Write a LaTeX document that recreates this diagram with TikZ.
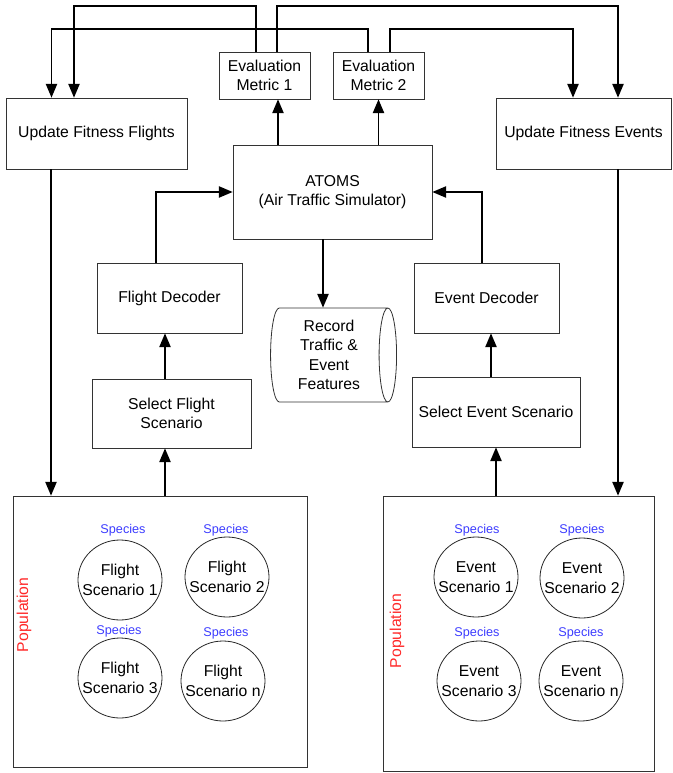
\documentclass[tikz,border=0pt]{standalone}
\usepackage{fontspec}
\setmainfont{Liberation Sans}
\usepackage{tikz}
\usetikzlibrary{shapes}
\usetikzlibrary{arrows}
\usetikzlibrary{calc}
\definecolor{speciesblue}{RGB}{60,60,255}
\definecolor{popred}{RGB}{255,40,40}
\newcommand{\unitpx}{0.75pt}
\newcommand{\boxfont}{\fontsize{11.8}{14.6}\selectfont}
\begin{document}
\begin{tikzpicture}[x=0.75pt,y=-0.75pt]
	\tikzstyle{blk}=[rectangle,draw=black!80,line width=0.6pt,align=center,font=\boxfont,inner sep=0pt]
	\tikzstyle{scen}=[ellipse,draw=black!85,line width=0.6pt,align=center,font=\boxfont,inner xsep=-12pt,inner ysep=0pt,minimum width=84*\unitpx,minimum height=80*\unitpx]
	\tikzstyle{species}=[font=\fontsize{9.5}{11}\selectfont,text=speciesblue,inner sep=0pt]
	\tikzstyle{poplabel}=[font=\boxfont,text=popred,rotate=90,inner sep=0pt]
	\tikzstyle{conn}=[->,>=triangle 45,line width=1.4pt]
	\useasboundingbox (0,0) rectangle (673,773);

	\node[blk,minimum width=181*\unitpx,minimum height=71*\unitpx] (upflights) at (96.5,133.5) {Update Fitness Flights};
	\node[blk,minimum width=175*\unitpx,minimum height=71*\unitpx] (upevents) at (583.5,133.5) {Update Fitness Events};
	\node[blk,minimum width=91*\unitpx,minimum height=47*\unitpx] (metric1) at (264.5,75.5) {Evaluation\\Metric 1};
	\node[blk,minimum width=91*\unitpx,minimum height=47*\unitpx] (metric2) at (378.5,75.5) {Evaluation\\Metric 2};
	\node[blk,minimum width=199*\unitpx,minimum height=94*\unitpx] (atoms) at (332.5,192) {ATOMS\\(Air Traffic Simulator)};
	\node[blk,minimum width=145*\unitpx,minimum height=70*\unitpx] (fdec) at (169.5,298) {Flight Decoder};
	\node[blk,minimum width=145*\unitpx,minimum height=70*\unitpx] (edec) at (486.5,298) {Event Decoder};
	\node[blk,minimum width=159*\unitpx,minimum height=69*\unitpx] (selflight) at (171.5,413.5) {Select Flight\\Scenario};
	\node[blk,minimum width=168*\unitpx,minimum height=70*\unitpx] (selevent) at (496,412) {Select Event Scenario};
	\node[cylinder,draw=black!80,line width=0.6pt,shape aspect=0.25,minimum width=94*\unitpx,minimum height=126*\unitpx,align=center,font=\boxfont,inner sep=0pt] (record) at (329,355) {Record\\Traffic \&\\Event\\Features};

	\node[blk,minimum width=294*\unitpx,minimum height=271*\unitpx] (popflights) at (160,631.5) {};
	\node[blk,minimum width=271*\unitpx,minimum height=275*\unitpx] (popevents) at (518.5,633.5) {};
	\node[poplabel] (popflightslbl) at (24,615) {Population};
	\node[poplabel] (popeventslbl) at (397,631) {Population};

	\node[scen] (fs1) at (120,580) {Flight\\Scenario 1};
	\node[scen] (fs2) at (227,577) {Flight\\Scenario 2};
	\node[scen] (fs3) at (120,678) {Flight\\Scenario 3};
	\node[scen] (fsn) at (223,681) {Flight\\Scenario n};
	\node[species] (fsp1) at (123,530) {Species};
	\node[species] (fsp2) at (226,530) {Species};
	\node[species] (fsp3) at (119,631) {Species};
	\node[species] (fspn) at (226,633) {Species};

	\node[scen] (es1) at (476,577) {Event\\Scenario 1};
	\node[scen] (es2) at (582,578) {Event\\Scenario 2};
	\node[scen] (es3) at (479,681) {Event\\Scenario 3};
	\node[scen] (esn) at (581,681) {Event\\Scenario n};
	\node[species] (esp1) at (477,530) {Species};
	\node[species] (esp2) at (582,530) {Species};
	\node[species] (esp3) at (477,633) {Species};
	\node[species] (espn) at (581,633) {Species};

	\coordinate (m1in) at ($(metric1.south)+(13.5,0)$);
	\coordinate (flout) at ($(upflights.south)+(-45.5,0)$);
	\coordinate (evout) at ($(upevents.south)+(34.5,0)$);
	\coordinate (sfin) at ($(selflight.south)+(-6.5,0)$);
	\coordinate (edin) at ($(edec.south)+(4.5,0)$);
	\coordinate (recin) at ($(atoms.south)+(-9.5,0)$);

	\draw[conn] ($(metric1.north)+(-8.5,0)$) -- ++(0,-46) -| ($(upflights.north)+(-22.5,0)$);
	\draw[conn] ($(metric1.north)+(12.5,0)$) -- ++(0,-46) -| ($(upevents.north)+(34.5,0)$);
	\draw[conn] ($(metric2.north)+(-10.5,0)$) -- ++(0,-23) -| ($(upflights.north)+(-45,0)$);
	\draw[conn] ($(metric2.north)+(11.5,0)$) -- ++(0,-23) -| ($(upevents.north)+(-10.5,0)$);
	\draw[conn] (m1in |- atoms.north) -- (m1in);
	\draw[conn] (metric2.south |- atoms.north) -- (metric2.south);
	\draw[conn] (recin) -- (recin |- record.north);
	\draw[conn] ($(fdec.north)+(-13.5,0)$) |- (atoms.west);
	\draw[conn] ($(edec.north)+(-4.5,0)$) |- (atoms.east);
	\draw[conn] (sfin |- selflight.north) -- (sfin |- fdec.south);
	\draw[conn] (sfin |- popflights.north) -- (sfin);
	\draw[conn] (edin |- selevent.north) -- (edin);
	\draw[conn] (selevent.south |- popevents.north) -- (selevent.south);
	\draw[conn] (flout) -- (flout |- popflights.north);
	\draw[conn] (evout) -- (evout |- popevents.north);
\end{tikzpicture}
\end{document}
